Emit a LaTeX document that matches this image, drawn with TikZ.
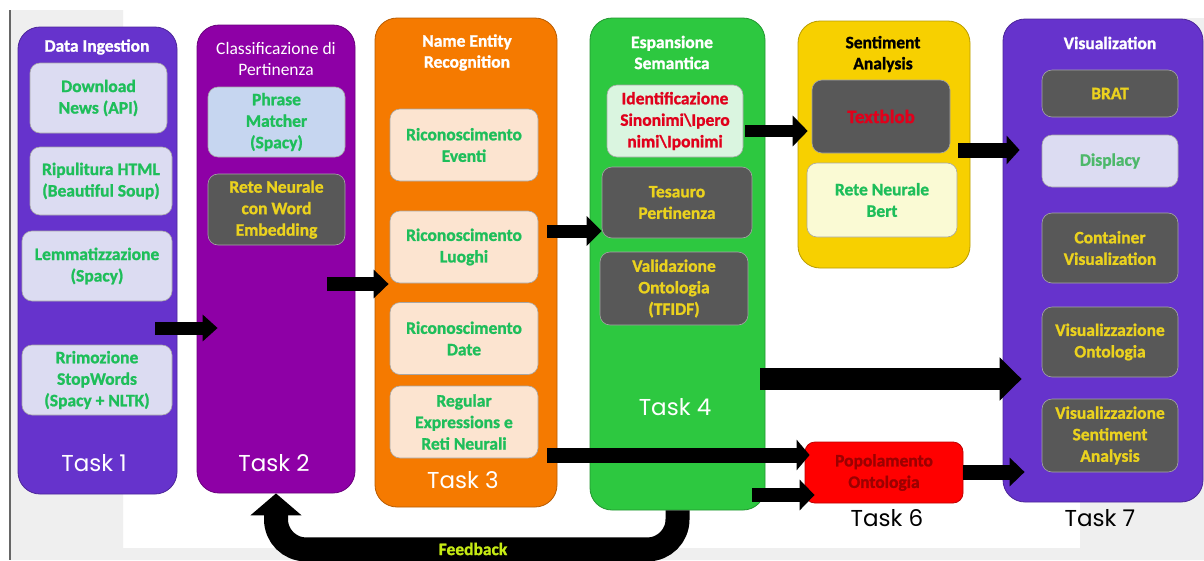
\documentclass[tikz,border=0pt]{standalone}
\usepackage{fontspec}
\setmainfont{Carlito}[BoldFont={Carlito Bold}, BoldFeatures={FakeBold=1.2}]
\newfontfamily\taskfont{Poppins}
\usetikzlibrary{arrows.meta,calc}

\definecolor{pagegrey}{HTML}{EFEFEF}
\definecolor{bluevio}{HTML}{6633CC}
\definecolor{violet2}{HTML}{8E00A6}
\definecolor{nerorange}{HTML}{F57A00}
\definecolor{semgreen}{HTML}{2DC840}
\definecolor{sentyellow}{HTML}{F7D000}
\definecolor{popred}{HTML}{FF0000}
\definecolor{darkbox}{HTML}{585858}
\definecolor{lavender}{HTML}{DCDCF2}
\definecolor{paleblue}{HTML}{C6D6F0}
\definecolor{peach}{HTML}{FCE4D0}
\definecolor{mint}{HTML}{DAF5E0}
\definecolor{paleyellow}{HTML}{FAFAD4}
\definecolor{itemgreen}{HTML}{1EBE5A}
\definecolor{softgreen}{HTML}{4DB86A}
\definecolor{itemyellow}{HTML}{EBD21E}
\definecolor{itemred}{HTML}{E0001B}
\definecolor{darkred}{HTML}{9B0000}
\definecolor{fbyellow}{HTML}{C6EB14}

\newcommand\itemfont{\bfseries\fontsize{17.5}{21.5}\selectfont}
\newcommand\titlefont{\fontsize{17.5}{21}\selectfont}

\tikzset{
  stage/.style={draw=#1!75!black, fill=#1, rounded corners=22pt, line width=0.8pt},
  item/.style 2 args={draw=black!35, fill=#1, text=#2, rounded corners=10pt,
    align=center, inner sep=0pt, font=\itemfont, line width=0.6pt},
  sz/.style 2 args={minimum width=#1, minimum height=#2},
  title/.style={align=center, font=\titlefont\bfseries, text=white},
  tasklabel/.style={font=\taskfont\fontsize{23}{28}\selectfont, text=white},
  barrow/.style n args={3}{draw=black, line width=#1, -{Triangle[length=#2, width=#3]}},
  feedback/.style={draw=black, line width=24pt, rounded corners=30pt,
    -{Triangle[length=22pt, width=50pt]}}
}

\begin{document}
\begin{tikzpicture}[x=1pt,y=-1pt]
  \useasboundingbox (0,0) rectangle (1204,560);

  % page background
  \fill[white] (0,0) rectangle (1204,560);
  \fill[pagegrey] (10,10) -- (123,10) -- (123,548) -- (1080,548) -- (1080,18)
    -- (1204,18) -- (1204,560) -- (10,560) -- cycle;
  \draw[black!60, line width=1.2pt] (10,10) -- (10,560);

  % stages
  \node[stage=bluevio,    sz={159}{467}] (t1) at (97.5,260.5) {};
  \node[stage=violet2,    sz={158}{468}] (t2) at (276,259)    {};
  \node[stage=nerorange,  sz={182}{489}] (t3) at (466,262.5)  {};
  \node[stage=semgreen,   sz={175}{492}] (t4) at (677.5,264)  {};
  \node[stage=sentyellow, sz={172}{247}] (t5) at (884,144.5)  {};
  \node[stage=bluevio,    sz={200}{483}] (t7) at (1103,260.5) {};
  \node[stage=popred, rounded corners=10pt, sz={158}{61}, align=center,
        text=darkred, font=\itemfont] (t6) at (884,472.5) {Popolamento\\Ontologia};

  % stage titles
  \node[title] (t1t) at (97,47)    {Data Ingestion};
  \node[title, font=\titlefont] (t2t) at (276,59) {Classificazione di\\Pertinenza};
  \node[title] (t3t) at (467,52.5) {Name Entity\\Recognition};
  \node[title] (t4t) at (672,52.5) {Espansione\\Semantica};
  \node[title, text=black] (t5t) at (883,54) {Sentiment\\Analysis};
  \node[title] (t7t) at (1110,43)  {Visualization};

  % task 1
  \begin{scope}[every node/.style={item={lavender}{itemgreen}}]
    \node[sz={137}{70}] (dl)  at (98.5,98) {Download\\News (API)};
    \node[sz={142}{68}] (rip) at (101,181) {Ripulitura HTML\\(Beautiful Soup)};
    \node[sz={150}{70}] (lem) at (97,266)  {Lemmatizzazione\\(Spacy)};
    \node[sz={150}{70}] (rim) at (97,380)  {Rrimozione\\StopWords\\(Spacy + NLTK)};
  \end{scope}

  % task 2
  \node[item={paleblue}{itemgreen}, sz={137}{70}] (phr) at (276.5,122) {Phrase\\Matcher\\(Spacy)};
  \node[item={darkbox}{itemyellow}, sz={137}{71}] (ret) at (276.5,209.5) {Rete Neurale\\con Word\\Embedding};

  % task 3
  \begin{scope}[every node/.style={item={peach}{itemgreen}, sz={148}{72}}]
    \node (eve) at (464,145)   {Riconoscimento\\Eventi};
    \node (luo) at (464,247)   {Riconoscimento\\Luoghi};
    \node (dat) at (464,338.5) {Riconoscimento\\Date};
    \node (reg) at (464,422)   {Regular\\Expressions e\\Reti Neurali};
  \end{scope}

  % task 4
  \node[item={mint}{itemred}, sz={136}{72}]     (ide) at (675,121)   {Identificazione\\Sinonimi\textbackslash Ipero\\nimi\textbackslash Iponimi};
  \node[item={darkbox}{itemyellow}, sz={150}{71}] (tes) at (677,202.5) {Tesauro\\Pertinenza};
  \node[item={darkbox}{itemyellow}, sz={148}{73}] (val) at (674,288.5) {Validazione\\Ontologia\\(TFIDF)};

  % task 5
  \node[item={darkbox}{itemred}, sz={138}{73}, font=\bfseries\fontsize{19}{22}\selectfont] (tbl) at (881,116.5) {Textblob};
  \node[item={paleyellow}{itemgreen}, sz={150}{74}] (brt) at (882,200)   {Rete Neurale\\Bert};

  % task 7
  \begin{scope}[every node/.style={item={darkbox}{itemyellow}}]
    \node[sz={136}{47}] (brat) at (1110,93.5) {BRAT};
    \node[sz={136}{52}, fill=lavender, text=softgreen] (dsp) at (1110,161) {Displacy};
    \node[sz={136}{70}] (cnt)  at (1110,248)   {Container\\Visualization};
    \node[sz={136}{70}] (vo)   at (1110,342)   {Visualizzazione\\Ontologia};
    \node[sz={136}{73}] (vsa)  at (1110,435.5) {Visualizzazione\\Sentiment\\Analysis};
  \end{scope}

  % task labels
  \node[tasklabel] (l1) at (94,463)   {Task 1};
  \node[tasklabel] (l2) at (274,463)  {Task 2};
  \node[tasklabel] (l3) at (463,480)  {Task 3};
  \node[tasklabel] (l4) at (675,407)  {Task 4};
  \node[tasklabel, text=black] (l6) at (887,518)  {Task 6};
  \node[tasklabel, text=black] (l7) at (1100,518) {Task 7};

  % arrows
  \coordinate (a1) at (155,328);
  \coordinate (a2) at (327,284);
  \coordinate (a3) at (547,231);
  \coordinate (a4) at (745,131);
  \coordinate (a5) at (958,150);
  \coordinate (a6) at (760,379);
  \coordinate (a7) at (547,455);
  \coordinate (a8) at (752,495);
  \coordinate (a9) at (963,472);
  \draw[barrow={13pt}{15pt}{26pt}] (a1) -- ($(a1 -| t2.west)+(21,0)$);
  \draw[barrow={14pt}{15pt}{28pt}] (a2) -- ($(a2 -| t3.west)+(14,0)$);
  \draw[barrow={13pt}{15pt}{29pt}] (a3) -- (a3 -| tes.west);
  \draw[barrow={12pt}{15pt}{30pt}] (a4) -- ($(a4 -| tbl.west)+(-4,0)$);
  \draw[barrow={15pt}{13pt}{28pt}] (a5) -- ($(a5 -| t7.west)+(17,0)$);
  \draw[barrow={22pt}{22pt}{42pt}] (a6) -- ($(a6 -| t7.west)+(19,0)$);
  \draw[barrow={15pt}{13pt}{30pt}] (a7) -- ($(a7 -| t6.west)+(5,0)$);
  \draw[barrow={14pt}{15pt}{30pt}] (a8) -- ($(a8 -| t6.west)+(10,0)$);
  \draw[barrow={15pt}{15pt}{28pt}] (a9) -- ($(a9 -| t7.west)+(22,0)$);

  % feedback loop
  \draw[feedback] (t4.south) -- ++(0,39) -| (t2.south);
  \node[font=\itemfont, text=fbyellow] (fb) at (473,549) {Feedback};
\end{tikzpicture}
\end{document}
